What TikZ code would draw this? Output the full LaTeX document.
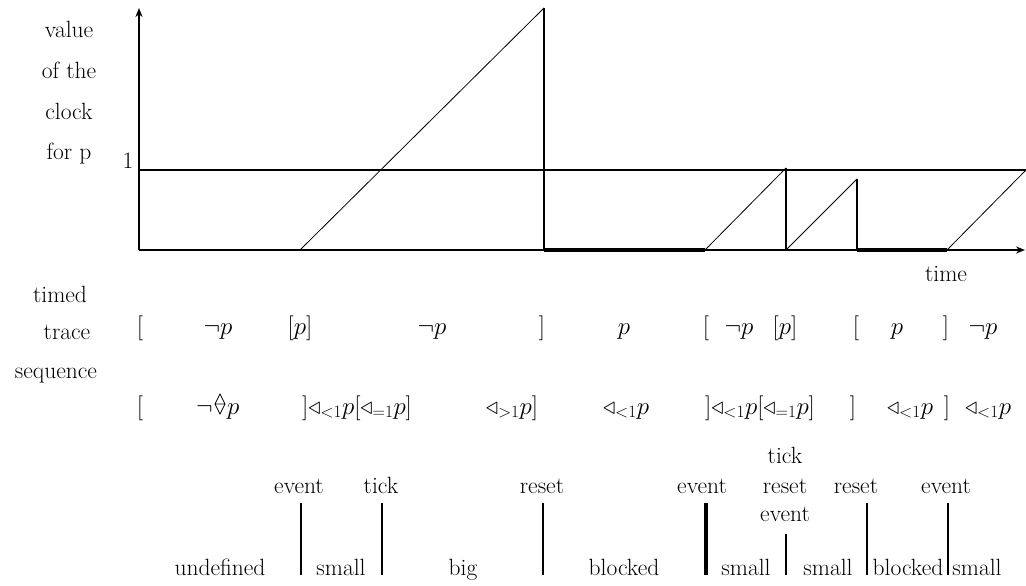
\documentclass[tikz,border=0pt]{standalone}
\usepackage{fontspec}
\usetikzlibrary{arrows.meta}
\newcommand{\tl}{\mathord{\triangleleft}}
\begin{document}
\begin{tikzpicture}[x=1pt,y=-1pt,
  every node/.style={font=\fontsize{23.5}{28}\selectfont, inner sep=0pt, anchor=base},
  mathlabel/.style={font=\fontsize{25}{30}\selectfont},
  axis/.style={line width=2.5pt, -{Stealth[length=9pt,width=7pt]}},
  level/.style={line width=2.5pt},
  ramp/.style={line width=0.8pt},
  drop/.style={line width=2.5pt},
  blockedline/.style={line width=4.5pt},
  evline/.style={line width=2.5pt},
  evthick/.style={line width=4pt},
  dmd/.style={line width=0.7pt}]
\useasboundingbox (0,0) rectangle (1026,586);
% clock plot
\coordinate (O) at (139,250);
\coordinate (Ytop) at (139,8);
\coordinate (Xend) at (1025,250);
\coordinate (L0) at (139,170);
\coordinate (L1) at (1026,170);
\draw[level] (L0) -- (L1);
\draw[ramp] (300,250) -- (544,8);
\draw[drop] (544,8) -- (544,250);
\draw[blockedline] (544,250) -- (705,250);
\draw[ramp] (705,250) -- (786,168);
\draw[drop] (786,168) -- (786,250);
\draw[ramp] (786,250) -- (857,179);
\draw[drop] (857,179) -- (857,250);
\draw[blockedline] (857,250) -- (947,250);
\draw[ramp] (947,250) -- (1026,170);
\draw[axis] (O) -- (Ytop);
\draw[axis] (O) -- (Xend);
% left labels
\node (v1) at (69,38) {value};
\node (v2) at (69,79) {of the};
\node (v3) at (69,119) {clock};
\node (v4) at (69,159) {for p};
\node (one) at (128,168) {1};
\node (tm) at (946,281) {time};
\node (l1) at (60,302) {timed};
\node (l2) at (67,339) {trace};
\node (l3) at (56,378) {sequence};
% row 1
\begin{scope}[every node/.append style={mathlabel}]
\node (a1) at (140,334) {$[$};
\node (a2) at (218,334) {$\neg p$};
\node (a3) at (300,334) {$[p]$};
\node (a4) at (432,334) {$\neg p$};
\node (a5) at (542,334) {$]$};
\node (a6) at (624,334) {$p$};
\node (a7) at (706,334) {$[$};
\node (a8) at (739,334) {$\neg p$};
\node (a9) at (785,334) {$[p]$};
\node (a10) at (856,334) {$[$};
\node (a11) at (897,334) {$p$};
\node (a12) at (946,334) {$]$};
\node (a13) at (983,334) {$\neg p$};
% row 2
\node (b1) at (140,414) {$[$};
\node[anchor=base east] (b2n) at (213,414) {$\neg$};
\node[anchor=base west] (b2p) at (227,414) {$p$};
\node (b3) at (357,414) {$]\tl_{<1}p[\tl_{=1}p]$};
\node (b4) at (512,414) {$\tl_{>1}p]$};
\node (b5) at (626,414) {$\tl_{<1}p$};
\node (b6) at (760,414) {$]\tl_{<1}p[\tl_{=1}p]$};
\node (b7) at (853,414) {$]$};
\node (b8) at (910,414) {$\tl_{<1}p$};
\node (b9) at (947,414) {$]$};
\node (b10) at (988,414) {$\tl_{<1}p$};
\end{scope}
\draw[dmd] (215,404) -- (220,414) -- (225,404) -- (220,394) -- cycle (215,404) -- (225,404);
% events
\node (e0) at (785,463) {tick};
\node (e1) at (299,493) {event};
\node (e2) at (381,493) {tick};
\node (e3) at (542,493) {reset};
\node (e4) at (702,493) {event};
\node (e5) at (785,493) {reset};
\node (e6) at (856,493) {reset};
\node (e7) at (946,493) {event};
\node (e8) at (785,521) {event};
\draw[evline] (301,503) -- (301,575);
\draw[evline] (382,503) -- (382,575);
\draw[evline] (543,503) -- (543,575);
\draw[evthick] (706,503) -- (706,575);
\draw[evline] (786,534) -- (786,575);
\draw[evline] (867,503) -- (867,575);
\draw[evline] (948,503) -- (948,575);
% phases
\node (p1) at (220,575) {undefined};
\node (p2) at (341,575) {small};
\node (p3) at (463,575) {big};
\node (p4) at (624,575) {blocked};
\node (p5) at (746,575) {small};
\node (p6) at (828,575) {small};
\node (p7) at (908,575) {blocked};
\node (p8) at (977,575) {small};
\end{tikzpicture}
\end{document}
